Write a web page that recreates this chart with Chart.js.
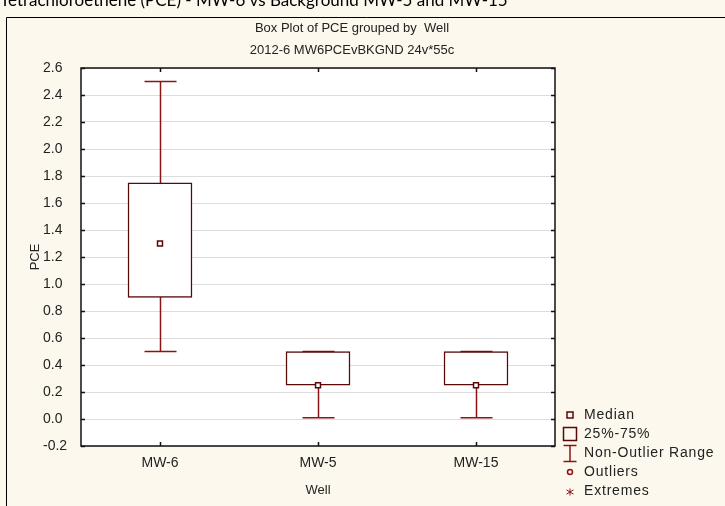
<!DOCTYPE html>
<html>
<head>
<meta charset="utf-8">
<script src="https://cdn.jsdelivr.net/npm/chart.js@4.4.1/dist/chart.umd.min.js"></script>
<style>
  html, body { margin: 0; padding: 0; background: #fdf8ee; }
  #wrap { width: 725px; height: 506px; position: relative; }
</style>
</head>
<body>
<div id="wrap"><canvas id="c" width="725" height="506"></canvas></div>
<script>
// ---- data ----
const categories = ['MW-6', 'MW-5', 'MW-15'];
const q1 = [0.90, 0.25, 0.25];
const q3 = [1.75, 0.50, 0.50];
const medians = [1.30, 0.25, 0.25];
const whiskerLow = [0.50, 0.01, 0.01];
const whiskerHigh = [2.50, 0.50, 0.50];
const yTicks = [-0.2, 0.0, 0.2, 0.4, 0.6, 0.8, 1.0, 1.2, 1.4, 1.6, 1.8, 2.0, 2.2, 2.4, 2.6];

const pageTitle = 'Tetrachloroethene (PCE) - MW-6 vs Background MW-5 and MW-15';
const title1 = 'Box Plot of PCE grouped by  Well';
const title2 = '2012-6 MW6PCEvBKGND 24v*55c';
const yTitle = 'PCE';
const xTitle = 'Well';
const legendItems = ['Median', '25%-75%', 'Non-Outlier Range', 'Outliers', 'Extremes'];

const BOX = '#5a0808';
const WHISK = '#8a1414';
const FONT = '"Liberation Sans", Arial, sans-serif';

const decor = {
  id: 'decor',
  beforeDraw(chart) {
    const ctx = chart.ctx, a = chart.chartArea;
    ctx.save();
    ctx.fillStyle = '#fdf8ee';
    ctx.fillRect(0, 0, chart.width, chart.height);
    ctx.strokeStyle = '#000';
    ctx.lineWidth = 1;
    ctx.beginPath();
    ctx.moveTo(6.5, chart.height + 2);
    ctx.lineTo(6.5, 17.5);
    ctx.lineTo(chart.width + 2, 17.5);
    ctx.stroke();
    ctx.fillStyle = '#ffffff';
    ctx.fillRect(a.left, a.top, a.right - a.left, a.bottom - a.top);
    ctx.restore();
  },
  beforeDatasetsDraw(chart) {
    const ctx = chart.ctx, x = chart.scales.x, y = chart.scales.y;
    ctx.save();
    ctx.strokeStyle = WHISK;
    ctx.lineWidth = 1.5;
    categories.forEach((c, i) => {
      const cx = Math.round(x.getPixelForValue(i)) + 0.5;
      const yl = y.getPixelForValue(whiskerLow[i]);
      const yh = y.getPixelForValue(whiskerHigh[i]);
      const cap = 16;
      ctx.beginPath();
      ctx.moveTo(cx, yl); ctx.lineTo(cx, yh);
      ctx.moveTo(cx - cap, yl); ctx.lineTo(cx + cap, yl);
      ctx.moveTo(cx - cap, yh); ctx.lineTo(cx + cap, yh);
      ctx.stroke();
    });
    ctx.restore();
  },
  afterDraw(chart) {
    const ctx = chart.ctx, a = chart.chartArea, x = chart.scales.x, y = chart.scales.y;
    ctx.save();
    ctx.strokeStyle = '#111';
    ctx.lineWidth = 1.5;
    ctx.strokeRect(a.left, a.top, a.right - a.left, a.bottom - a.top);
    ctx.beginPath();
    yTicks.forEach(v => {
      const py = Math.round(y.getPixelForValue(v)) + 0.5;
      ctx.moveTo(a.left, py); ctx.lineTo(a.left + 4, py);
      ctx.moveTo(a.right, py); ctx.lineTo(a.right - 4, py);
    });
    categories.forEach((c, i) => {
      const px = Math.round(x.getPixelForValue(i)) + 0.5;
      ctx.moveTo(px, a.bottom); ctx.lineTo(px, a.bottom - 4);
      ctx.moveTo(px, a.top); ctx.lineTo(px, a.top + 4);
    });
    ctx.stroke();

    ctx.fillStyle = '#000';
    ctx.textAlign = 'left';
    ctx.textBaseline = 'alphabetic';
    ctx.font = '17px Lato, "Liberation Sans", sans-serif';
    ctx.fillText(pageTitle, 0, 6);

    ctx.fillStyle = '#222';
    ctx.textAlign = 'center';
    ctx.textBaseline = 'middle';
    ctx.font = '13px ' + FONT;
    ctx.fillText(title1, 352, 28);
    ctx.fillText(title2, 352, 50);
    ctx.fillText(xTitle, (a.left + a.right) / 2, 490);
    ctx.save();
    ctx.translate(35, (a.top + a.bottom) / 2);
    ctx.rotate(-Math.PI / 2);
    ctx.fillText(yTitle, 0, 0);
    ctx.restore();

    // legend
    const lx = 570, tx = 584;
    const rows = [415, 434, 453, 472, 491];
    ctx.font = '14px ' + FONT;
    try { ctx.letterSpacing = '0.8px'; } catch (e) {}
    ctx.textAlign = 'left';
    ctx.fillStyle = '#222';
    legendItems.forEach((t, i) => ctx.fillText(t, tx, rows[i]));
    try { ctx.letterSpacing = '0px'; } catch (e) {}
    ctx.strokeStyle = BOX;
    ctx.lineWidth = 1.5;
    ctx.strokeRect(lx - 3, rows[0] - 3, 6, 6);
    ctx.strokeRect(lx - 6.5, rows[1] - 6.5, 13, 13);
    ctx.strokeStyle = WHISK;
    ctx.beginPath();
    ctx.moveTo(lx - 6.5, rows[2] - 7.5); ctx.lineTo(lx + 6.5, rows[2] - 7.5);
    ctx.moveTo(lx, rows[2] - 7.5); ctx.lineTo(lx, rows[2] + 8.5);
    ctx.moveTo(lx - 6.5, rows[2] + 8.5); ctx.lineTo(lx + 6.5, rows[2] + 8.5);
    ctx.stroke();
    ctx.beginPath();
    ctx.arc(lx, rows[3], 2.5, 0, Math.PI * 2);
    ctx.stroke();
    // extremes asterisk
    ctx.lineWidth = 1;
    ctx.beginPath();
    const r = 3.5, cy = rows[4] + 1;
    ctx.moveTo(lx, cy - r); ctx.lineTo(lx, cy + r);
    ctx.moveTo(lx - r, cy - r * 0.6); ctx.lineTo(lx + r, cy + r * 0.6);
    ctx.moveTo(lx - r, cy + r * 0.6); ctx.lineTo(lx + r, cy - r * 0.6);
    ctx.stroke();
    ctx.restore();
  }
};

new Chart(document.getElementById('c'), {
  data: {
    labels: categories,
    datasets: [
      {
        type: 'bar',
        data: categories.map((c, i) => [q1[i], q3[i]]),
        backgroundColor: '#ffffff',
        borderColor: BOX,
        borderWidth: 1.5,
        borderSkipped: false,
        barThickness: 64,
        order: 2
      },
      {
        type: 'line',
        data: medians,
        showLine: false,
        pointStyle: 'rect',
        pointRadius: 3.5,
        pointBackgroundColor: '#ffffff',
        pointBorderColor: BOX,
        pointBorderWidth: 1.5,
        order: 1
      }
    ]
  },
  options: {
    responsive: false,
    animation: false,
    events: [],
    layout: { padding: { left: 43, right: 170, top: 68, bottom: 0 } },
    plugins: { legend: { display: false }, title: { display: false }, tooltip: { enabled: false } },
    scales: {
      x: {
        type: 'category',
        offset: true,
        grid: { display: false, drawTicks: false },
        border: { display: false },
        ticks: { color: '#222', font: { family: FONT, size: 14 }, padding: 9 },
        afterFit(s) { s.height = 60; }
      },
      y: {
        min: -0.2, max: 2.6,
        afterBuildTicks(s) { s.ticks = yTicks.map(v => ({ value: v })); },
        grid: { color: '#dddddd', lineWidth: 1, drawTicks: false },
        border: { display: false },
        ticks: {
          color: '#222', font: { family: FONT, size: 14 }, crossAlign: 'far', padding: 8,
          callback: v => Number(v).toFixed(1)
        },
        afterFit(s) { s.width = 38; }
      }
    }
  },
  plugins: [decor]
});
</script>
</body>
</html>
